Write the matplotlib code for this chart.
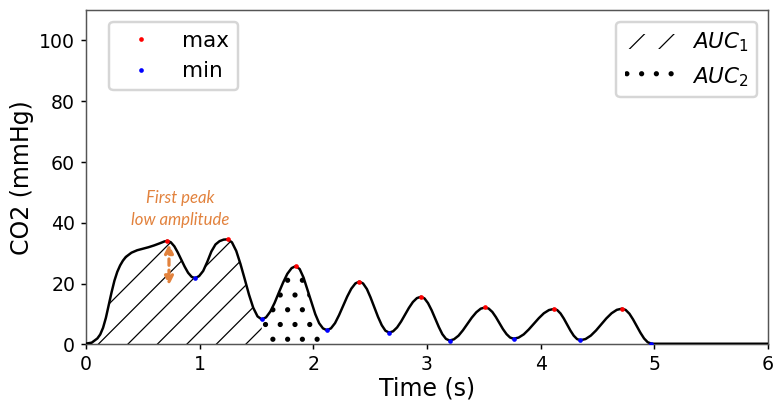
import numpy as np
import matplotlib
matplotlib.use("Agg")
import matplotlib.pyplot as plt

# CO2 trace (seconds, mmHg)
time_s = [0.000, 0.050, 0.100, 0.125, 0.150, 0.175, 0.200, 0.225, 0.250, 0.275,
          0.300, 0.325, 0.350, 0.400, 0.450, 0.500, 0.550, 0.600, 0.650, 0.690,
          0.716, 0.746, 0.777, 0.807, 0.838, 0.868, 0.898, 0.929, 0.959, 0.995,
          1.031, 1.067, 1.103, 1.139, 1.175, 1.211, 1.247, 1.284, 1.322, 1.359,
          1.397, 1.434, 1.471, 1.509, 1.546, 1.584, 1.621, 1.659, 1.696, 1.734,
          1.771, 1.809, 1.846, 1.880, 1.914, 1.948, 1.983, 2.017, 2.051, 2.085,
          2.119, 2.155, 2.191, 2.226, 2.262, 2.298, 2.334, 2.370, 2.405, 2.438,
          2.471, 2.503, 2.536, 2.569, 2.602, 2.634, 2.667, 2.702, 2.737, 2.772,
          2.807, 2.841, 2.876, 2.911, 2.946, 2.978, 3.009, 3.041, 3.072, 3.104,
          3.135, 3.167, 3.198, 3.237, 3.277, 3.316, 3.355, 3.394, 3.434, 3.473,
          3.512, 3.543, 3.575, 3.606, 3.637, 3.668, 3.700, 3.731, 3.762, 3.806,
          3.851, 3.895, 3.940, 3.984, 4.028, 4.073, 4.117, 4.146, 4.175, 4.204,
          4.233, 4.262, 4.291, 4.320, 4.349, 4.395, 4.441, 4.487, 4.533, 4.578,
          4.624, 4.670, 4.716, 4.748, 4.781, 4.813, 4.845, 4.878, 4.910, 4.942,
          4.974, 5.000, 5.500, 6.000]
co2 = [0.30, 0.60, 2.00, 3.30, 5.50, 8.80, 13.0, 17.2, 21.0, 23.9,
       26.0, 27.6, 28.8, 30.2, 31.0, 31.5, 32.0, 32.6, 33.3, 33.9,
       34.1, 33.63, 32.30, 30.30, 27.95, 25.60, 23.60, 22.27, 21.8, 22.5,
       24.2, 27.2, 30.6, 32.9, 34.0, 34.5, 34.6, 33.6, 30.75, 26.46,
       21.43, 16.39, 12.10, 9.25, 8.25, 8.92, 10.81, 13.67, 17.03, 20.38,
       23.24, 25.13, 25.8, 24.8, 22.0, 18.0, 13.9, 10.0, 7.0, 5.3,
       4.7, 5.31, 7.04, 9.64, 12.70, 15.76, 18.36, 20.09, 20.7, 20.06,
       18.25, 15.51, 12.30, 9.09, 6.35, 4.54, 3.9, 4.35, 5.62, 7.55,
       9.80, 12.05, 13.98, 15.25, 15.7, 15.15, 13.60, 11.25, 8.50, 5.75,
       3.40, 1.85, 1.3, 1.71, 2.89, 4.67, 6.75, 8.83, 10.61, 11.79,
       12.2, 11.81, 10.70, 9.02, 7.05, 5.08, 3.40, 2.29, 1.9, 2.27,
       3.33, 4.93, 6.80, 8.67, 10.27, 11.33, 11.7, 11.31, 10.20, 8.52,
       6.55, 4.58, 2.90, 1.79, 1.4, 1.80, 2.92, 4.61, 6.60, 8.59,
       10.28, 11.40, 11.8, 11.36, 10.12, 8.25, 6.05, 3.85, 1.98, 0.74,
       0.3, 0.25, 0.25, 0.25]

max_t = [0.716, 1.247, 1.846, 2.405, 2.946, 3.512, 4.117, 4.716]
max_y = [34.1, 34.6, 25.8, 20.7, 15.7, 12.2, 11.7, 11.8]
min_t = [0.959, 1.546, 2.119, 2.667, 3.198, 3.762, 4.349, 4.974]
min_y = [21.8, 8.25, 4.7, 3.9, 1.3, 1.9, 1.4, 0.3]

auc1_end = 1.546
auc2_end = 2.119

DPI = 177
LINE_HATCH_LW = 0.5
DOT_HATCH_LW = 0.9
plt.rcParams['font.family'] = ['DejaVu Sans']


def set_hatch_lw(artist, lw):
    if hasattr(artist, 'set_hatch_linewidth'):
        artist.set_hatch_linewidth(lw)
    else:
        artist._hatch_linewidth = lw


t = np.array(time_s)
y = np.array(co2)

fig = plt.figure(figsize=(777 / DPI, 401 / DPI), dpi=DPI)
ax = fig.add_axes([0.1107, 0.1409, 0.8777, 0.834])

auc1 = ax.fill_between(t, 0, y, where=t <= auc1_end, facecolor='none',
                       edgecolor='k', hatch='//', linewidth=0, label='$AUC_1$')
auc2 = ax.fill_between(t, 0, y, where=(t >= auc1_end) & (t <= auc2_end - 0.01),
                       facecolor='none', edgecolor='k', hatch='..', linewidth=0,
                       label='$AUC_2$')
set_hatch_lw(auc1, LINE_HATCH_LW)
set_hatch_lw(auc2, DOT_HATCH_LW)

ax.plot(t, y, color='k', lw=1.0, zorder=3)
h_max, = ax.plot(max_t, max_y, 'o', color='red', ms=1.9, mew=0, zorder=4,
                 label='max')
h_min, = ax.plot(min_t, min_y, 'o', color='blue', ms=1.9, mew=0, zorder=4,
                 label='min')

# first peak annotation
orange = '#E2823D'
ax.annotate('', xy=(0.73, 19.5), xytext=(0.73, 33.0),
            arrowprops=dict(arrowstyle='<|-|>', color=orange, lw=1.3,
                            linestyle=(0, (2, 1.5)), mutation_scale=7,
                            shrinkA=0, shrinkB=0), zorder=5)
ax.text(0.83, 44.7, 'First peak\nlow amplitude', color=orange,
        fontsize=6.8, style='italic', family=['Lato', 'DejaVu Sans'],
        ha='center', va='center', linespacing=1.45)

ax.set_xlim(0, 6)
ax.set_ylim(0, 110)
ax.set_xticks(range(0, 7))
ax.set_yticks(range(0, 101, 20))
ax.tick_params(labelsize=7.7, length=2, width=0.6, pad=2.4)
for sp in ax.spines.values():
    sp.set_linewidth(0.6)
    sp.set_color('#555555')
ax.set_xlabel('Time (s)', fontsize=9.6, labelpad=1)
ax.set_ylabel('CO2 (mmHg)', fontsize=9.6, labelpad=2)

leg1 = ax.legend(handles=[h_max, h_min], loc='upper left',
                 bbox_to_anchor=(0.034, 0.964), borderaxespad=0,
                 fontsize=8.75, numpoints=1, handlelength=2.2)
ax.add_artist(leg1)
leg2 = ax.legend([auc1, auc2], ['$AUC_1$', '$AUC_2$'], loc='upper right',
                 bbox_to_anchor=(0.984, 0.964), borderaxespad=0,
                 fontsize=8.75, handlelength=2.3)
p1, p2 = leg2.get_patches()
set_hatch_lw(p1, LINE_HATCH_LW)
set_hatch_lw(p2, DOT_HATCH_LW)

fig.savefig('out.png', dpi=DPI)
